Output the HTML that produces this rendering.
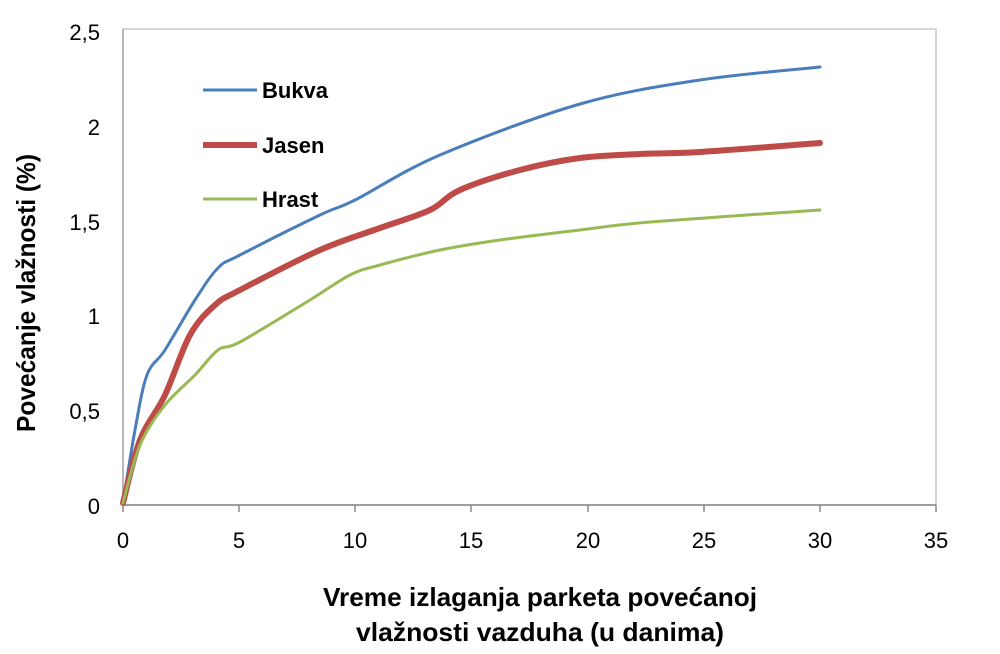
<!DOCTYPE html>
<html><head><meta charset="utf-8"><style>
body{margin:0;background:#fff;}
svg text{font-family:"Liberation Sans",sans-serif;}
</style></head><body>
<svg id="s" width="1000" height="649" viewBox="0 0 1000 649" xmlns="http://www.w3.org/2000/svg">
<rect x="123" y="29" width="813" height="476" fill="none" stroke="#c8c8c8" stroke-width="1.5"/>
<line x1="123" y1="505" x2="936" y2="505" stroke="#888" stroke-width="1.5"/>
<line x1="123" y1="29" x2="123" y2="505" stroke="#aaa" stroke-width="1.5"/>
<g stroke="#888" stroke-width="1.5">
<line x1="123" y1="505" x2="123" y2="512"/><line x1="239" y1="505" x2="239" y2="512"/><line x1="355" y1="505" x2="355" y2="512"/><line x1="471" y1="505" x2="471" y2="512"/><line x1="588" y1="505" x2="588" y2="512"/><line x1="704" y1="505" x2="704" y2="512"/><line x1="820" y1="505" x2="820" y2="512"/><line x1="936" y1="505" x2="936" y2="512"/>
</g>
<g font-size="22" fill="#000" text-anchor="end">
<text x="100" y="40">2,5</text><text x="100" y="135">2</text><text x="100" y="230">1,5</text><text x="100" y="324">1</text><text x="100" y="419">0,5</text><text x="100" y="514">0</text>
</g>
<g font-size="22" fill="#000" text-anchor="middle">
<text x="123" y="548">0</text><text x="239" y="548">5</text><text x="355" y="548">10</text><text x="471" y="548">15</text><text x="588" y="548">20</text><text x="704" y="548">25</text><text x="820" y="548">30</text><text x="936" y="548">35</text>
</g>
<g font-size="26" font-weight="bold" text-anchor="middle" fill="#000">
<text x="540" y="606" textLength="434" lengthAdjust="spacingAndGlyphs">Vreme izlaganja parketa povećanoj</text>
<text x="540" y="641" textLength="368" lengthAdjust="spacingAndGlyphs">vlažnosti vazduha (u danima)</text>
<text transform="translate(35,293) rotate(-90)" textLength="278" lengthAdjust="spacingAndGlyphs">Povećanje vlažnosti (%)</text>
</g>
<line x1="203" y1="90" x2="257" y2="90" stroke="#4a7ebb" stroke-width="3"/>
<line x1="203" y1="145" x2="257" y2="145" stroke="#be4b48" stroke-width="6"/>
<line x1="203" y1="199" x2="257" y2="199" stroke="#98b954" stroke-width="3"/>
<g font-size="22" font-weight="bold" fill="#000">
<text x="262" y="98">Bukva</text><text x="262" y="153">Jasen</text><text x="262" y="207">Hrast</text>
</g>
<path id="b" fill="none" stroke="#4a7ebb" stroke-width="3" stroke-linecap="round"/>
<path id="j" fill="none" stroke="#be4b48" stroke-width="6" stroke-linecap="round"/>
<path id="h" fill="none" stroke="#98b954" stroke-width="3" stroke-linecap="round"/>
</svg>
<script>
function cr(p){let d="M"+p[0][0]+","+p[0][1];for(let i=0;i<p.length-1;i++){const a=p[Math.max(i-1,0)],b=p[i],c=p[i+1],e=p[Math.min(i+2,p.length-1)];d+=" C"+(b[0]+(c[0]-a[0])/6)+","+(b[1]+(c[1]-a[1])/6)+" "+(c[0]-(e[0]-b[0])/6)+","+(c[1]-(e[1]-b[1])/6)+" "+c[0]+","+c[1];}return d;}
document.getElementById("b").setAttribute("d",cr([[123,503],[135,430],[147,375],[165,350],[195,300],[218,268],[240,255],[320,215],[355,200],[440,155],[580,104],[700,80],[820,67]]));
document.getElementById("j").setAttribute("d",cr([[123,503],[140,440],[165,395],[190,335],[215,305],[240,290],[320,250],[380,228],[430,210],[460,190],[520,170],[580,158],[640,154],[700,152],[820,143]]));
document.getElementById("h").setAttribute("d",cr([[123,503],[140,445],[165,405],[195,375],[218,350],[240,342],[310,300],[350,275],[380,265],[440,250],[500,240],[580,230],[650,222],[820,210]]));
</script>
</body></html>
